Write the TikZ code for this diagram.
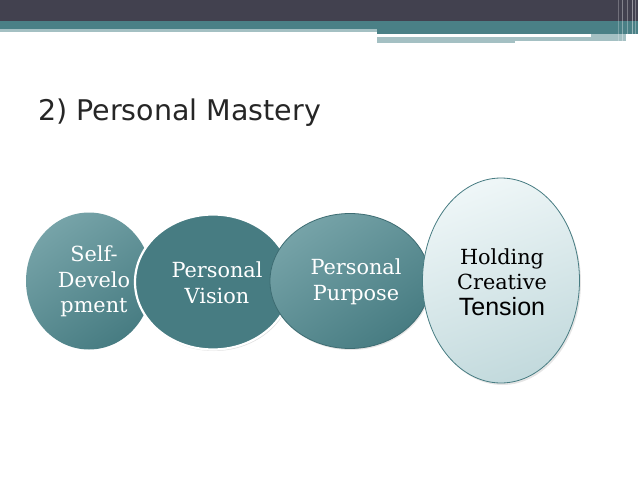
\documentclass[tikz,border=0pt]{standalone}
\usepackage{fontspec}
\usetikzlibrary{shapes.geometric,shadows}
\newfontfamily\titlefont{DejaVu Sans}
\newfontfamily\serifface{DejaVu Serif}
\newfontfamily\sansface{Liberation Sans}
\definecolor{barDark}{HTML}{42414F}
\definecolor{barTeal}{HTML}{4A8086}
\definecolor{barLight}{HTML}{A4C0C3}
\definecolor{tealMain}{HTML}{477C82}
\definecolor{tealLight}{HTML}{76A3A8}
\definecolor{tealEdge}{HTML}{3D6C72}
\definecolor{paleTop}{HTML}{EEF6F7}
\definecolor{paleBot}{HTML}{C3DADD}
\definecolor{titleGray}{HTML}{262626}
\tikzset{
  bubble/.style={ellipse, inner sep=0pt},
  darkbubble/.style={bubble, top color=tealLight, bottom color=tealMain, shading angle=35},
  bubbletext/.style={align=center, inner sep=0pt, text=white, font=\serifface\fontsize{20.8}{25.5}\selectfont},
}
\begin{document}
\begin{tikzpicture}[x=1pt,y=-1pt]
\useasboundingbox (0,0) rectangle (638,479);
\fill[white] (0,0) rectangle (638,479);
% header bands
\fill[barDark] (0,0) rectangle (638,21);
\fill[barTeal] (0,21) rectangle (638,29);
\fill[barTeal] (377,29) rectangle (638,34);
\fill[barLight] (0,29) rectangle (377,32);
\fill[barLight] (377,37) rectangle (515,43);
\fill[barLight] (515,37) rectangle (626,41);
\fill[barLight] (591,34) rectangle (626,37);
\foreach \xx/\op in {618/0.25,622/0.35,627/0.3,632/0.45,635/0.3}
  \draw[white, opacity=\op, line width=1pt] (\xx,0) -- (\xx,43);
% title
\node[anchor=base west, inner sep=0pt, text=titleGray, font=\titlefont\fontsize{28.5}{34}\selectfont] (title) at (38,120) {2) Personal Mastery};
% bubbles
\node[darkbubble, minimum width=126pt, minimum height=137pt] (b1) at (89,281) {};
\node[bubbletext] (t1) at (94,281.5) {Self-\\Develo\\pment};
\node[bubble, fill=tealMain, draw=white, line width=2.2pt, minimum width=156pt, minimum height=135pt,
      drop shadow={opacity=0.25, shadow xshift=1pt, shadow yshift=-1.5pt}] (b2) at (213,282) {};
\node[bubbletext] (t2) at (217,282.5) {Personal\\Vision};
\node[darkbubble, draw=tealEdge, line width=0.8pt, minimum width=160pt, minimum height=135pt,
      drop shadow={opacity=0.2, shadow xshift=1pt, shadow yshift=-1.5pt}] (b3) at (350,281) {};
\node[bubbletext] (t3) at (356,282) {Personal\\Purpose};
\node[bubble, top color=paleTop, bottom color=paleBot, shading angle=20, draw=tealMain, line width=0.8pt,
      minimum width=157pt, minimum height=205pt,
      drop shadow={opacity=0.2, shadow xshift=1.5pt, shadow yshift=-2pt}] (b4) at (501,280.5) {};
\node[align=center, inner sep=0pt, text=black, font=\serifface\fontsize{20.8}{25.5}\selectfont] (t4) at (502,282) {Holding\\Creative\\{\sansface\fontsize{25}{25.5}\selectfont Tension}};
\end{tikzpicture}
\end{document}
